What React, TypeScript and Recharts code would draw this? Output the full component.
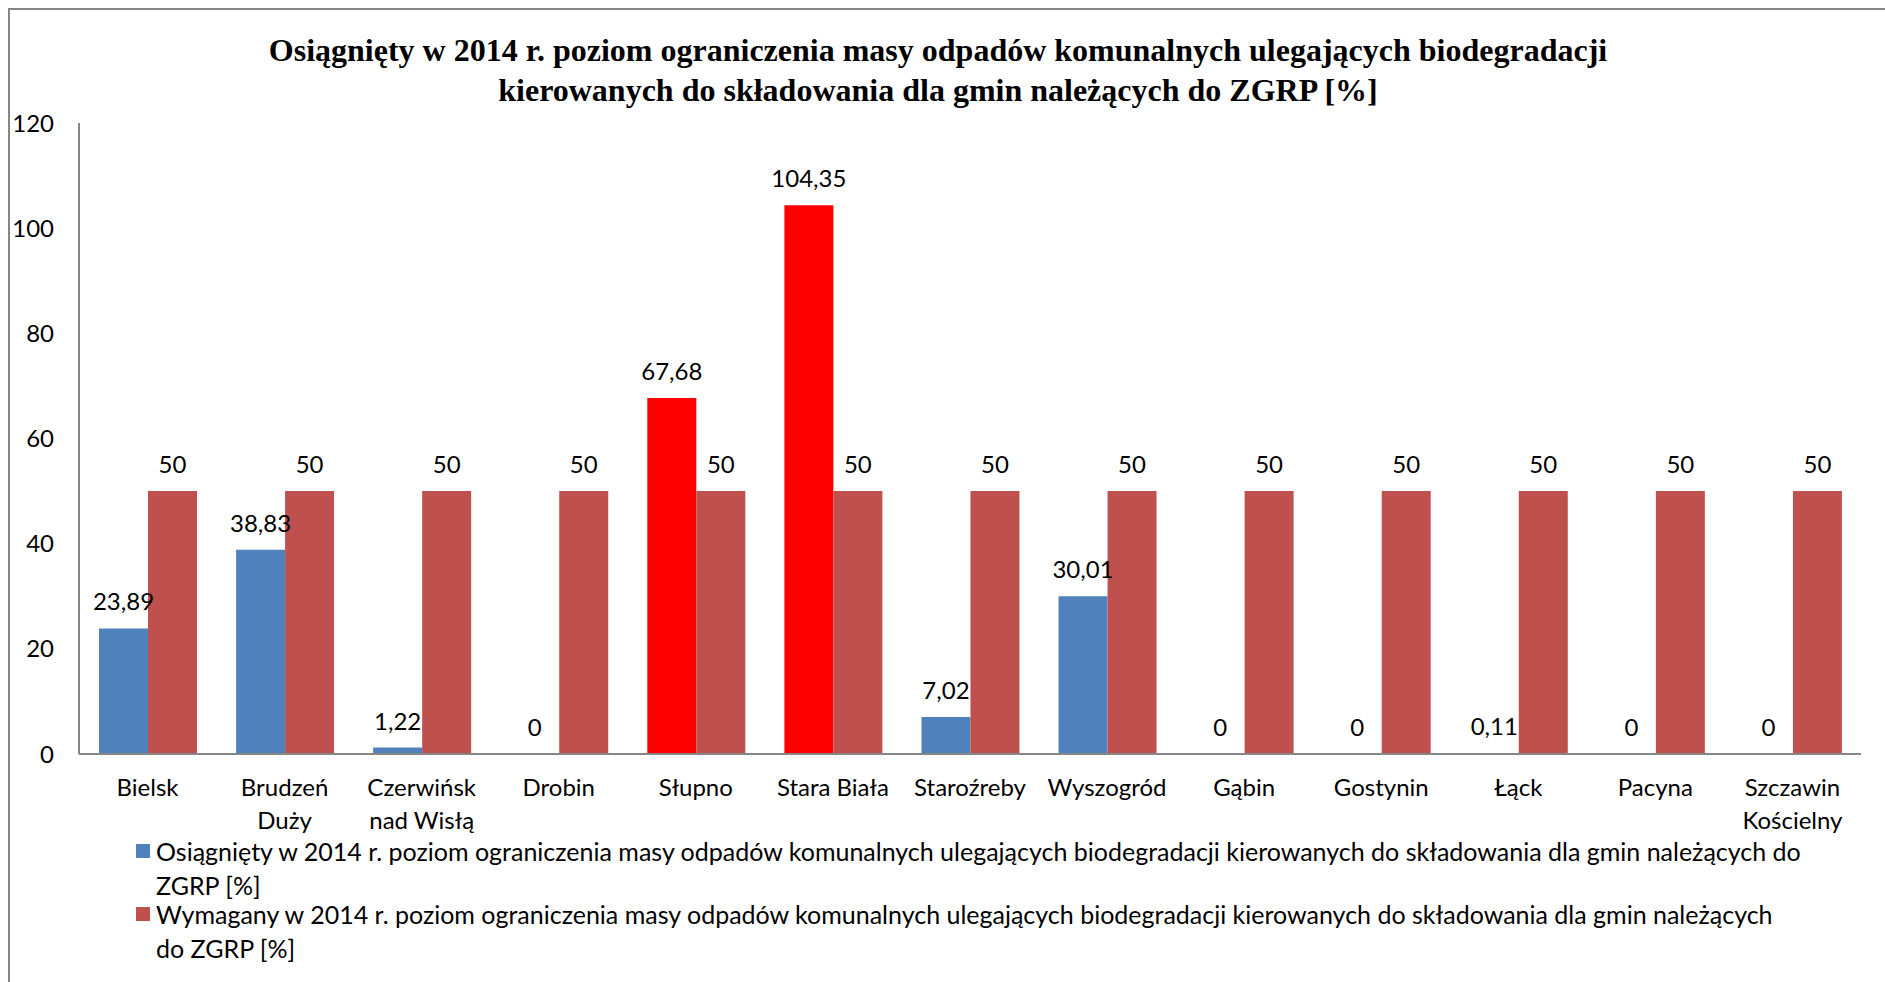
import { BarChart, Bar, XAxis, YAxis, Cell, LabelList } from 'recharts'

const categories = [
  'Bielsk', 'Brudzeń Duży', 'Czerwińsk nad Wisłą', 'Drobin', 'Słupno', 'Stara Biała',
  'Staroźreby', 'Wyszogród', 'Gąbin', 'Gostynin', 'Łąck', 'Pacyna', 'Szczawin Kościelny',
]
const achieved = [23.89, 38.83, 1.22, 0, 67.68, 104.35, 7.02, 30.01, 0, 0, 0.11, 0, 0]
const required = [50, 50, 50, 50, 50, 50, 50, 50, 50, 50, 50, 50, 50]
const highlighted = ['Słupno', 'Stara Biała']
const yTicks = [0, 20, 40, 60, 80, 100, 120]

const titleLines = [
  'Osiągnięty w 2014 r. poziom ograniczenia masy odpadów komunalnych ulegających biodegradacji',
  'kierowanych do składowania dla gmin należących do ZGRP [%]',
]
const achievedName = 'Osiągnięty w 2014 r. poziom ograniczenia masy odpadów komunalnych ulegających biodegradacji kierowanych do składowania dla gmin należących do ZGRP [%]'
const requiredName = 'Wymagany w 2014 r. poziom ograniczenia masy odpadów komunalnych ulegających biodegradacji kierowanych do składowania dla gmin należących do ZGRP [%]'

const BLUE = '#4f81bd'
const RED = '#c0504d'
const HOT = '#ff0000'
const AXIS = '#868686'
const FONT = 'Lato, "Noto Sans", sans-serif'
const FS = 24

const rows = categories.map((name, i) => ({ name, achieved: achieved[i], required: required[i] }))

const fmt = (v: any) => String(v).replace('.', ',')

let ctx: CanvasRenderingContext2D | null = null
function textWidth(s: string) {
  if (!ctx) ctx = document.createElement('canvas').getContext('2d')
  if (!ctx) return s.length * 11
  ctx.font = `${FS}px ${FONT}`
  return ctx.measureText(s).width
}

function wrap(label: string, max = 128) {
  const words = label.split(' ')
  const lines: string[] = []
  let cur = ''
  for (const w of words) {
    const next = cur ? cur + ' ' + w : w
    if (cur && textWidth(next) > max) {
      lines.push(cur)
      cur = w
    } else cur = next
  }
  if (cur) lines.push(cur)
  return lines
}

function CategoryTick(props: any) {
  const { x, y, payload } = props
  const lines = wrap(payload.value)
  return (
    <text x={x} y={y + 34} textAnchor="middle" fill="#000" fontSize={FS} fontFamily={FONT}>
      {lines.map((l, i) => (
        <tspan key={i} x={x} dy={i ? 33 : 0}>{l}</tspan>
      ))}
    </text>
  )
}

function LegendItem({ color, name, cut, top }: { color: string; name: string; cut: string; top: number }) {
  const i = name.lastIndexOf(cut)
  return (
    <div style={{ position: 'absolute', left: 136, top, fontFamily: FONT, fontSize: 25, lineHeight: '34px' }}>
      <span style={{ position: 'absolute', left: 0, top: 10, width: 14, height: 14, background: color }} />
      <div style={{ marginLeft: 20, whiteSpace: 'nowrap' }}>
        {name.slice(0, i)}<br />{name.slice(i + 1)}
      </div>
    </div>
  )
}

export default function App() {
  return (
    <div style={{ position: 'fixed', left: 0, top: 0, width: 1885, height: 982, background: '#fff', overflow: 'hidden' }}>
      <div style={{ position: 'absolute', left: 8, top: 8, width: 1900, height: 1000, borderLeft: `2px solid ${AXIS}`, borderTop: `2px solid ${AXIS}` }} />
      <div style={{ position: 'absolute', left: 0, top: 30, width: 1876, textAlign: 'center', fontFamily: '"Liberation Serif", serif', fontWeight: 'bold', fontSize: 32, lineHeight: '40px' }}>
        {titleLines.map(t => <div key={t}>{t}</div>)}
      </div>
      <div style={{ position: 'absolute', left: 0, top: 0 }}>
        <BarChart width={1885} height={982} data={rows} margin={{ top: 123, right: 24, bottom: 198, left: 9 }} barGap={0} barSize={49}>
          <XAxis dataKey="name" interval={0} tick={<CategoryTick />} tickLine={false} axisLine={{ stroke: AXIS, strokeWidth: 2 }} height={30} />
          <YAxis domain={[0, 120]} ticks={yTicks} width={70} tickLine={false} tickSize={0} tickMargin={25}
            axisLine={{ stroke: AXIS, strokeWidth: 2 }} tick={{ fill: '#000', fontSize: FS, fontFamily: FONT }} />
          <Bar dataKey="achieved" name={achievedName} fill={BLUE} minPointSize={0.01} isAnimationActive={false}>
            {rows.map(r => <Cell key={r.name} fill={highlighted.includes(r.name) ? HOT : BLUE} />)}
            <LabelList dataKey="achieved" position="top" offset={18} formatter={fmt} fill="#000" fontSize={FS} fontFamily={FONT} />
          </Bar>
          <Bar dataKey="required" name={requiredName} fill={RED} isAnimationActive={false}>
            <LabelList dataKey="required" position="top" offset={18} formatter={fmt} fill="#000" fontSize={FS} fontFamily={FONT} />
          </Bar>
        </BarChart>
      </div>
      <LegendItem color={BLUE} name={achievedName} cut=" ZGRP" top={834} />
      <LegendItem color={RED} name={requiredName} cut=" do ZGRP" top={897} />
    </div>
  )
}
